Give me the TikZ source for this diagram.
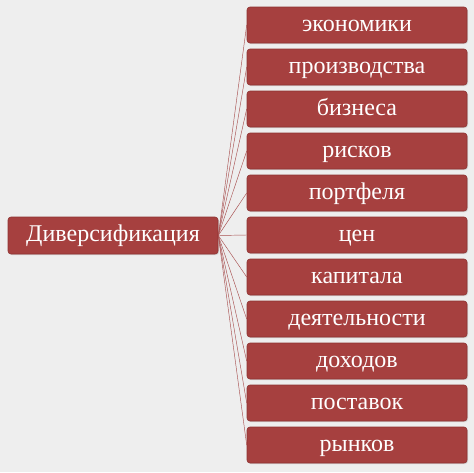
\documentclass[tikz,border=0pt]{standalone}
\usepackage{fontspec}
\setmainfont{Liberation Serif}
\usetikzlibrary{shadows}
\definecolor{boxred}{HTML}{A6403F}
\definecolor{boxedge}{HTML}{8E3332}
\definecolor{linered}{HTML}{A85050}
\definecolor{bg}{HTML}{EEEEEE}
\tikzset{
  redbox/.style={draw=boxedge, line width=0.6pt, fill=boxred, rounded corners=3pt,
    text=white, font=\fontsize{24}{24}\selectfont, inner sep=0pt,
    text height=16pt, text depth=4pt,
    drop shadow={shadow xshift=1pt, shadow yshift=-1pt, opacity=0.25}},
  rbox/.style={redbox, minimum width=220pt, minimum height=36pt},
  lbox/.style={redbox, minimum width=210pt, minimum height=37pt},
  conn/.style={draw=linered, line width=0.45pt}
}
\begin{document}
\begin{tikzpicture}[x=1pt,y=-1pt]
\fill[bg] (0,0) rectangle (474,472);
\useasboundingbox (0,0) rectangle (474,472);
\node[lbox] (root) at (113,235.5) {Диверсификация};
\foreach \t [count=\i] in {экономики,производства,бизнеса,рисков,портфеля,цен,капитала,деятельности,доходов,поставок,рынков}{
  \node[rbox] (b\i) at (357,{25+42*(\i-1)}) {\t};
}
\foreach \i in {1,...,11}{
  \draw[conn] (root.east) -- (b\i.west);
}
\end{tikzpicture}
\end{document}
